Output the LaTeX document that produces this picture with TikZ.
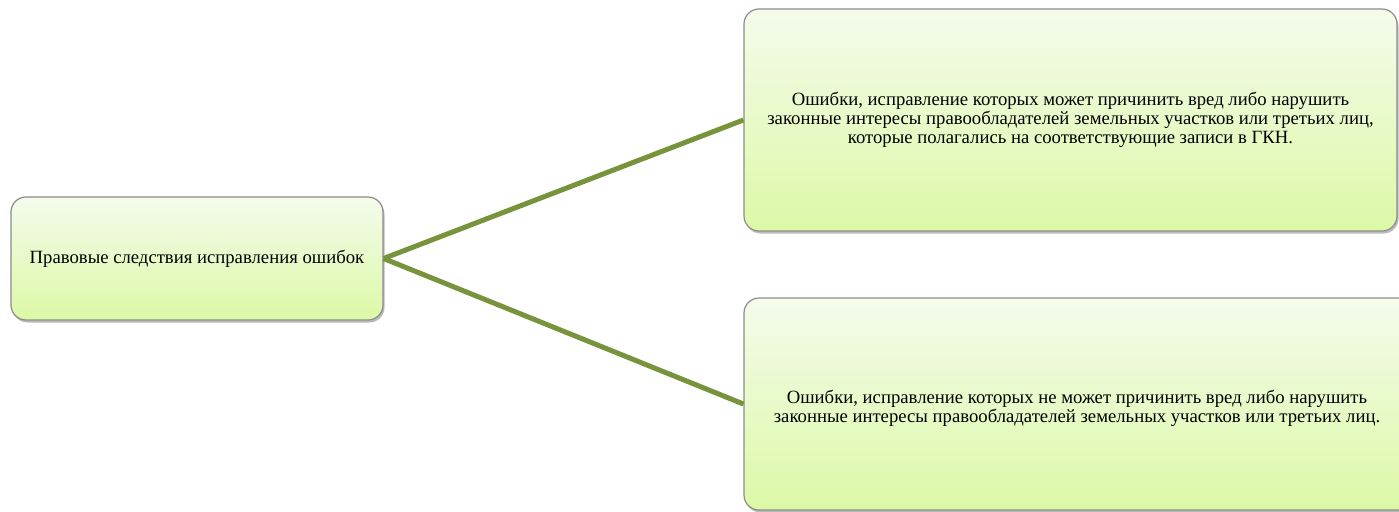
\documentclass[tikz,border=0pt]{standalone}
\usepackage{fontspec}
\setmainfont{Liberation Serif}
\usetikzlibrary{shadows}
\definecolor{linkgreen}{HTML}{77933C}
\definecolor{boxtop}{HTML}{F4FBEC}
\definecolor{boxbot}{HTML}{DCF9A6}
\definecolor{boxline}{HTML}{8C8C8C}
\begin{document}
\begin{tikzpicture}[x=1pt,y=-1pt]
\useasboundingbox (0,0) rectangle (1399,511);
\tikzset{
  box/.style={draw=boxline, line width=1.2pt, rounded corners=15pt,
    top color=boxtop, bottom color=boxbot, inner sep=0pt,
    drop shadow={shadow xshift=1.5pt, shadow yshift=-2.5pt, opacity=0.45, fill=black!60}},
  label/.style={font=\fontsize{18.7}{19}\selectfont, align=center, text=black},
  link/.style={draw=linkgreen, line width=5pt}
}
\node[box, minimum width=372pt, minimum height=123pt] (root) at (197,258.5) {};
\node[box, minimum width=653pt, minimum height=222pt] (top) at (1070.5,120) {};
\node[box, minimum width=700pt, minimum height=212pt] (bot) at (1094,404) {};
\node[label] (rootT) at (root.center) {Правовые следствия исправления ошибок};
\node[label] (topT) at (top.center) {Ошибки, исправление которых может причинить вред либо нарушить\\законные интересы правообладателей земельных участков или третьих лиц,\\которые полагались на соответствующие записи в ГКН.};
\node[label] (botT) at (1077,408) {Ошибки, исправление которых не может причинить вред либо нарушить\\законные интересы правообладателей земельных участков или третьих лиц.};
\draw[link] (root.east) -- (top.west);
\draw[link] (root.east) -- (bot.west);
\end{tikzpicture}
\end{document}
